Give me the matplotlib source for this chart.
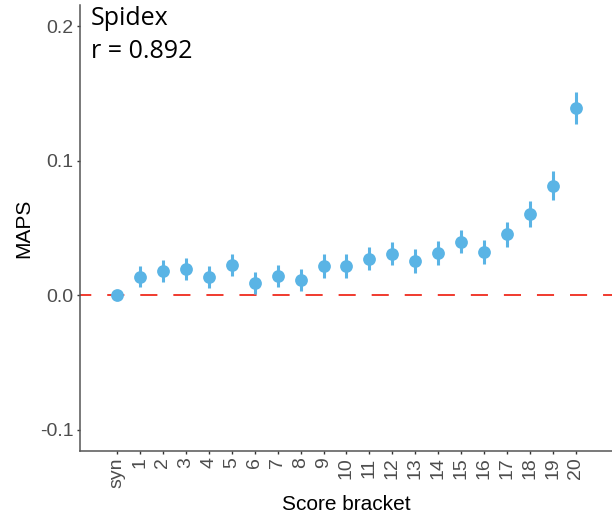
import matplotlib
matplotlib.use('Agg')
import matplotlib.pyplot as plt
import numpy as np

# score brackets and the MAPS estimate with its error
brackets = ['syn'] + [str(k) for k in range(1, 21)]
maps = [0.0, 0.0139, 0.0180, 0.0193, 0.0139, 0.0223, 0.0094, 0.0143, 0.0114,
        0.0218, 0.0218, 0.0272, 0.0310, 0.0255, 0.0317, 0.0399, 0.0322,
        0.0453, 0.0607, 0.0814, 0.1393]
err = [0.0, 0.0080, 0.0082, 0.0082, 0.0082, 0.0082, 0.0082, 0.0082, 0.0082,
       0.0086, 0.0087, 0.0087, 0.0088, 0.0088, 0.0089, 0.0088, 0.0092,
       0.0094, 0.0097, 0.0106, 0.0119]
y_ticks = [-0.1, 0.0, 0.1, 0.2]
y_labels = ['-0.1', '0.0', '0.1', '0.2']

plt.rcParams['font.family'] = ['Liberation Sans', 'DejaVu Sans']

fig = plt.figure(figsize=(6.12, 5.18), dpi=100)
ax = fig.add_axes([80 / 612, 67 / 518, 532 / 612, 446 / 518])

x = np.arange(len(brackets))
point_col = '#5AB4E5'

# reference line at zero
ax.axhline(0, color='#F03A2E', lw=1.4, linestyle=(3, (8.8, 8.2)), zorder=1)

ax.errorbar(x, maps, yerr=err, fmt='none', ecolor=point_col,
            elinewidth=2.2, capsize=0, zorder=2)
ax.plot(x, maps, 'o', color=point_col, markersize=9.2, mec='none', zorder=3)

ax.set_xlim(-1.61, 21.57)
ax.set_ylim(-0.1156, 0.2156)
ax.set_xticks(x)
ax.set_xticklabels(brackets, rotation=90)
ax.set_yticks(y_ticks)
ax.set_yticklabels(y_labels)

ax.tick_params(axis='both', length=2.5, width=1, color='#333333',
               labelsize=14, labelcolor='#4D4D4D', pad=2)

for side in ('top', 'right'):
    ax.spines[side].set_visible(False)
for side in ('left', 'bottom'):
    ax.spines[side].set_color('#555555')
    ax.spines[side].set_linewidth(1.1)

ax.set_xlabel('Score bracket', fontsize=15, color='black', labelpad=5)
ax.set_ylabel('MAPS', fontsize=15, color='black', labelpad=5)

ax.text(0.02, 0.997, 'Spidex\nr = 0.892', transform=ax.transAxes,
        ha='left', va='top', fontsize=18, family=['Open Sans', 'DejaVu Sans'],
        linespacing=1.38, color='black')

fig.savefig('out.png', dpi=100)
